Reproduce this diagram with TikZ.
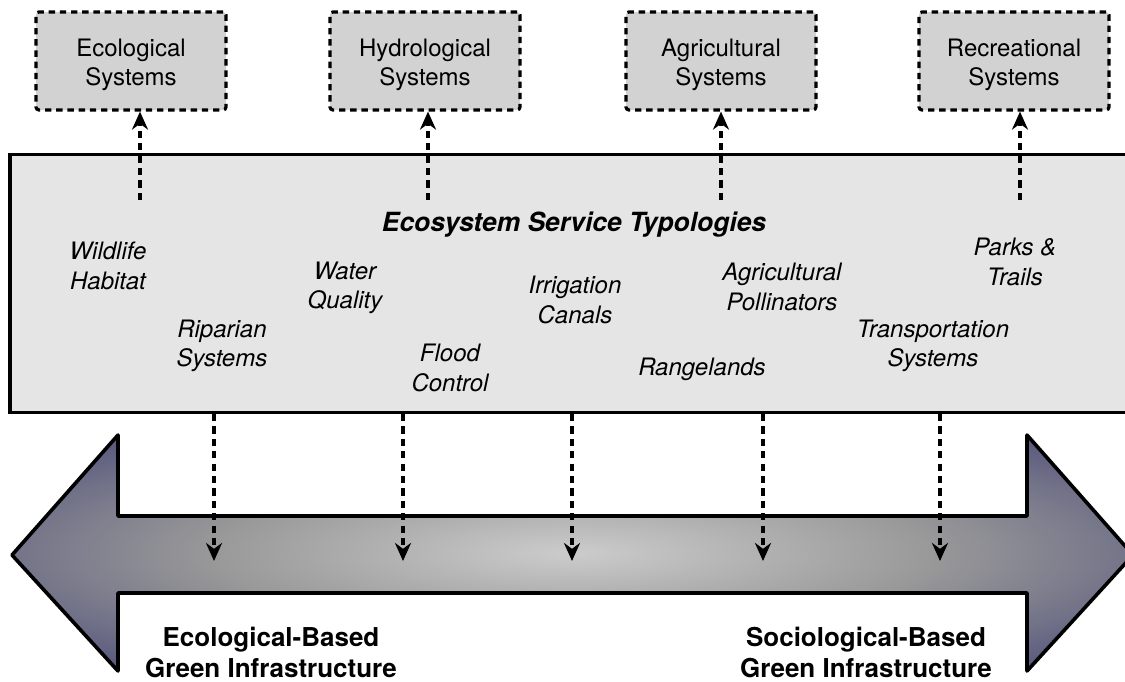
\documentclass[tikz,border=0pt]{standalone}
\usepackage{fontspec}
\setmainfont{TeX Gyre Heros}
\usetikzlibrary{arrows.meta}
\definecolor{topfill}{HTML}{D2D2D2}
\definecolor{mainfill}{HTML}{E5E5E5}
\pgfdeclareradialshading{arrowshade}{\pgfpoint{0bp}{0bp}}{color(0bp)=(black!20!white); color(16bp)=(black!40!white); color(32bp)=(black!60!white!85!blue); color(50bp)=(black!75!white!80!blue)}
\newcommand{\twoline}[2]{\raisebox{-2.2pt}[\height][\depth]{\begin{tabular}{@{}c@{}}#1\\#2\end{tabular}}}
\begin{document}
\begin{tikzpicture}[x=0.5pt,y=-0.5pt,
  topbox/.style={draw=black, fill=topfill, line width=1.6pt, dash pattern=on 3.2pt off 2.4pt, rounded corners=1.5pt, minimum width=95pt, minimum height=49pt, align=center, font=\fontsize{12}{14.5}\selectfont},
  mainbox/.style={draw=black, fill=mainfill, line width=1.8pt, minimum width=567pt, minimum height=129pt, inner sep=0pt},
  svc/.style={align=center, font=\fontsize{12}{14.8}\selectfont\itshape},
  conn/.style={line width=1.6pt, dash pattern=on 3.6pt off 2.6pt, -{Stealth[length=9pt,width=8pt]}},
  biglabel/.style={align=center, font=\fontsize{13}{15.5}\selectfont\bfseries}]
\useasboundingbox (0,0) rectangle (1125,681);
\clip (0,0) rectangle (1125,681);
% top boxes
\node[topbox] (eco) at (131,61) {\twoline{Ecological}{Systems}};
\node[topbox] (hyd) at (425,61) {\twoline{Hydrological}{Systems}};
\node[topbox] (agr) at (721,61) {\twoline{Agricultural}{Systems}};
\node[topbox] (rec) at (1014,61) {\twoline{Recreational}{Systems}};
% main box
\node[mainbox] (main) at (577,283.5) {};
\node[font=\fontsize{13.2}{15}\selectfont\bfseries\itshape] (title) at (574,225) {Ecosystem Service Typologies};
% service labels
\node[svc] (wild) at (108,266) {Wildlife\\Habitat};
\node[svc] (water) at (345,288) {Water\\Quality};
\node[svc] (rip) at (222,346) {Riparian\\Systems};
\node[svc] (flood) at (450,368) {Flood\\Control};
\node[svc] (irr) at (575,300) {Irrigation\\Canals};
\node[svc] (pol) at (782,287) {Agricultural\\Pollinators};
\node[svc] (range) at (702,369) {Rangelands};
\node[svc] (parks) at (1015,262) {Parks \&\\Trails};
\node[svc] (trans) at (933,346) {Transportation\\Systems};
% up connectors
\coordinate (u1) at (140,200);
\coordinate (u2) at (428,200);
\coordinate (u3) at (721,200);
\coordinate (u4) at (1020,200);
\draw[conn] (u1) -- (u1 |- eco.south);
\draw[conn] (u2) -- (u2 |- hyd.south);
\draw[conn] (u3) -- (u3 |- agr.south);
\draw[conn] (u4) -- (u4 |- rec.south);
% double arrow
\shade[shading=arrowshade, draw=black, line width=1.8pt, line join=round]
  (12,555) -- (118,435) -- (118,516) -- (1027,516) -- (1027,435) -- (1133,555)
  -- (1027,671) -- (1027,593) -- (118,593) -- (118,671) -- cycle;
% down connectors
\foreach \n/\x in {1/214,2/403,3/572,4/763,5/940}{
  \coordinate (d\n) at (\x,414);
  \coordinate (e\n) at (\x,561);
  \draw[conn] (d\n) -- (e\n);
}
% bottom labels
\node[biglabel] (ecob) at (271,652) {Ecological-Based\\Green Infrastructure};
\node[biglabel] (socb) at (866,652) {Sociological-Based\\Green Infrastructure};
\end{tikzpicture}
\end{document}
